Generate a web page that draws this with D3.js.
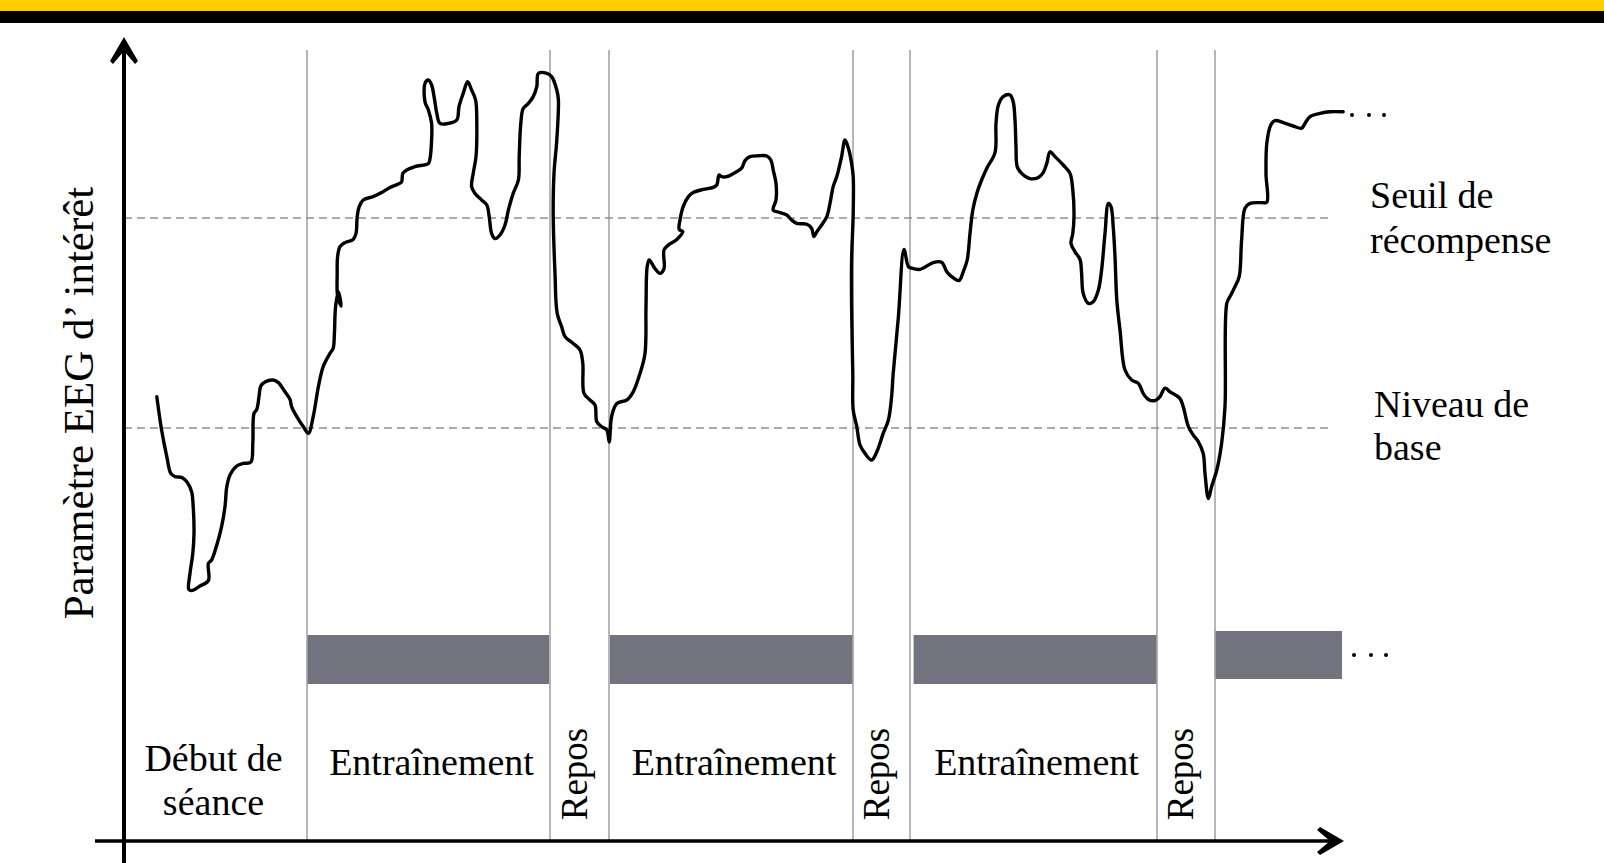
<!DOCTYPE html>
<html><head><meta charset="utf-8">
<script src="https://cdn.jsdelivr.net/npm/d3@7"></script>
<style>html,body{margin:0;padding:0;background:#fff;overflow:hidden}</style>
</head><body><svg id="c" width="1604" height="863"></svg>
<script>
// ---- data (time in arbitrary units, EEG parameter in arbitrary units) ----
const phaseNames = [["Début de","séance"],["Entraînement"],["Repos"],["Entraînement"],["Repos"],["Entraînement"],["Repos"]];
const phaseKinds = ["start","train","rest","train","rest","train","rest"];
const phaseStart = [0, 45.75, 106.5, 121.25, 182.25, 196.5, 258.25];
const phaseEnd   = [45.75, 106.5, 121.25, 182.25, 196.5, 258.25, 272.75];
const feedbackStart = [45.75, 121.5, 197.4, 272.75];
const feedbackEnd   = [106.25, 182.25, 258.25, 304.5];
const feedbackLow   = [39.25, 39.25, 39.25, 40.5];
const feedbackHigh  = [51.5, 51.5, 51.5, 52.5];
const levelValues = [155.75, 103.25];
const levelLabels = [["Seuil de","récompense"],["Niveau de","base"]];
const yAxisLabel = "Paramètre EEG d’ intérêt";
const eegSignal = [
[8.2,111.1],[9.4,102.75],[10.7,96.1],[11.7,91.9],[12.75,91.1],[14.4,90.9],[15.7,89.8],[16.9,87.3],[17.3,83.6],[17.5,76.9],
[17.2,71.9],[16.5,66.9],[16.2,62.9],[16.9,62.6],[19,63.75],[21.1,65.1],[21.1,69.4],[21.9,70.25],[23.2,74],[24.4,78.6],
[25.25,83.6],[25.7,88.6],[26.5,91.5],[28.2,93.75],[29.8,94.4],[31.7,94.7],[32.2,99.4],[32.5,106.9],[33.2,107.9],[33.8,111.5],
[34.2,113.75],[35.25,114.75],[37.3,115.25],[38.6,114.6],[40.25,112.3],[41.5,110.4],[41.9,108.6],[43.2,106.1],[44.8,103.6],[46.1,101.9],
[47.3,106.1],[48.6,113.6],[49.8,118.6],[51.5,121.9],[52.3,123.2],[52.6,126.9],[52.9,133.6],[53.6,137.25],[54.3,133.75],[53.4,136.25],
[53.3,141.9],[53.4,146.1],[54,148.6],[55.25,149.6],[57.3,150.4],[58,151.9],[58.3,156.1],[58.8,158.6],[59.8,160.25],[62.3,161.1],
[64.4,162.1],[66.5,163.4],[68.6,164.25],[69.4,164.8],[69.7,166.9],[70.7,167.75],[72.75,168.6],[76.1,169.4],[76.5,170.6],[76.9,175.25],
[76.9,179.4],[76.1,182.75],[75.25,184.8],[75.25,189.4],[76.1,190.25],[76.9,189],[77.6,185.6],[78.2,181.9],[79,179.4],[81.1,179.4],
[83.2,180.25],[83.75,183.6],[84.8,186.9],[85.9,189.8],[86.9,187.75],[87.9,185.25],[88.2,179.4],[88,171.1],[87.3,166.9],[86.9,163.6],
[87.75,161.9],[89.4,160.25],[90.7,159],[91.3,156.1],[91.9,151.9],[92.75,150.6],[94,151.5],[95.25,154],[96.1,157.75],[97.3,161.9],
[98.6,165.25],[98.8,171.1],[99.2,179.4],[99.8,183.1],[101.1,184.4],[102.3,186.1],[103.2,188.6],[103.6,191.9],[105.7,191.9],[106.9,191.1],
[108.2,187.75],[108.6,185.25],[108.2,175.25],[107.5,166.9],[107.3,156.9],[107.75,141.9],[108.3,131.9],[109.4,128.6],[110.25,126.1],[112.3,124.4],
[114,122.75],[114.7,119.4],[115,111.9],[116.5,110.25],[117.75,109],[118.2,104.8],[119.4,103.6],[120.7,102.75],[121.3,99.75],[121.9,106.1],
[123.2,109.4],[125.7,110.25],[127.3,112.3],[129,116.9],[130.25,121.9],[130.5,133.6],[130.8,143.6],[131.3,145.25],[132.75,143.1],[134,141.9],
[135,143.1],[135,147.75],[136.1,149],[138.2,150.4],[139.7,152.3],[138.8,152.9],[139,155.25],[139.8,158.6],[141.1,161.1],[142.3,162.1],
[144.8,162.9],[147.3,163.4],[148.2,164],[148.75,166.5],[149.4,166.1],[150.7,166.1],[152.75,167.1],[154.4,168.2],[155.25,170.1],[156.5,171.1],
[158.6,171.3],[160.7,171.25],[161.7,170.25],[162.3,167.75],[163,164.4],[163,160.25],[162.3,157.75],[164,157.1],[165.7,156.5],[166.9,155.25],
[168.2,154.4],[170.7,154.2],[171.9,153.2],[172.5,151.1],[173.2,152.3],[174.4,154],[175.7,156.1],[176.5,159.4],[177.3,163.6],[178.2,166.1],
[179.4,171.1],[180.25,175.25],[181.1,173.2],[181.9,169.4],[182.3,166.1],[182.3,156.9],[181.9,145.25],[181.9,133.6],[182.2,116.9],[182.3,107.75],
[183.2,103.6],[184,99],[185.25,96.9],[186.9,95.25],[188.2,97.3],[189.8,101.9],[191.1,105.25],[191.9,111.1],[192.3,116.9],[193.6,131.1],
[195,147.9],[196.1,143.6],[196.9,143.2],[199,142.9],[202.3,144.6],[204.4,144.7],[205.7,142.3],[206.9,141.1],[208.75,140.1],[209.8,142.3],
[210.8,145.25],[211.5,151.9],[212.2,157.75],[213.2,161.9],[214.4,165.25],[215.7,168.2],[217.75,172.1],[218,179.4],[218.6,184],[219.8,186.1],
[221.5,186.5],[222.3,184.8],[222.75,180.25],[223,173.6],[223.3,168.6],[224.4,166.9],[226.5,165.6],[228.6,165.9],[229.8,167.1],[230.7,169.4],
[231.5,172.3],[232.75,171.1],[234.8,169],[236.5,166.9],[237.2,162.75],[237.5,156.1],[237.2,151.9],[236.75,149.4],[237.75,147.3],[239,145.4],
[239.4,141.9],[239.8,136.9],[241.1,134.4],[242.3,134.8],[243.6,137.75],[244.4,142.75],[245.25,151.9],[246.1,159.4],[246.75,158.6],[247.3,153.6],
[247.75,146.1],[248.2,135.25],[249,127.75],[250.25,117.75],[251.9,115.25],[253.6,114.4],[254.8,111.9],[256.1,110.4],[257.75,110.1],[259,111.1],
[260.25,113.2],[261.5,112.3],[264,110.6],[264.8,108.6],[266.1,103.6],[267.3,101.5],[268.6,99.8],[269.8,96.9],[270.25,91.9],[271.1,85.6],
[271.9,88.6],[273.2,92.75],[274.4,99.4],[275.25,108.6],[275.7,134.4],[276.5,136.1],[277.75,138.6],[278.8,141.1],[279.4,150.25],[280.25,158.2],
[281.5,159.4],[284.4,159.6],[285.7,159.7],[285.5,166.9],[285.7,174.4],[286.7,179],[287.75,180.1],[289.8,179.6],[292.3,178.75],[294.4,178.2],
[295.25,179.4],[296.5,181.1],[299,181.9],[301.5,182.3],[304.8,182.3]
];
const continuationSignal = [[307,181.5],[311.25,181.5],[315,181.5]];
const continuationFeedback = [[307.5,46.5],[311.75,46.5],[315.5,46.5]];

// ---- scales ----
const W = 1604, H = 863;
const x = d3.scaleLinear().domain([0, 305]).range([124, 1344]);
const y = d3.scaleLinear().domain([0, 200]).range([841, 41]);
const svg = d3.select("#c");
const FONT = "'Liberation Serif','Times New Roman',serif";
const INK = "#000";

// top banner
svg.append("rect").attr("x",0).attr("y",0).attr("width",W).attr("height",11).attr("fill","#ffcc00");
svg.append("rect").attr("x",0).attr("y",11).attr("width",W).attr("height",12).attr("fill","#000");

// feedback bars
svg.append("g").selectAll("rect").data(d3.range(feedbackStart.length)).join("rect")
  .attr("x", i => x(feedbackStart[i]))
  .attr("width", i => x(feedbackEnd[i]) - x(feedbackStart[i]))
  .attr("y", i => y(feedbackHigh[i]))
  .attr("height", i => y(feedbackLow[i]) - y(feedbackHigh[i]))
  .attr("fill", "#72737e");

// phase boundary lines
svg.append("g").selectAll("line").data(phaseEnd).join("line")
  .attr("x1", d => x(d)).attr("x2", d => x(d))
  .attr("y1", y(197.75)).attr("y2", y(0))
  .attr("stroke", "#a2a3ad").attr("stroke-width", 1.6);

// dashed levels
svg.append("g").selectAll("line").data(levelValues).join("line")
  .attr("x1", x(0)).attr("x2", x(302))
  .attr("y1", d => y(d)).attr("y2", d => y(d))
  .attr("stroke", "#8e8f9c").attr("stroke-width", 1.6)
  .attr("stroke-dasharray", "8,5");

// EEG curve
const line = d3.line().x(d => x(d[0])).y(d => y(d[1])).curve(d3.curveCatmullRom.alpha(0.5));
svg.append("path").datum(eegSignal).attr("d", line)
  .attr("fill", "none").attr("stroke", "#000").attr("stroke-width", 3.4)
  .attr("stroke-linejoin", "round").attr("stroke-linecap", "round");

// continuation dots
svg.append("g").selectAll("circle").data(continuationSignal.concat(continuationFeedback)).join("circle")
  .attr("cx", d => x(d[0])).attr("cy", d => y(d[1])).attr("r", 2).attr("fill", "#000");

// axes
svg.append("line").attr("x1", x(0)).attr("x2", x(0)).attr("y1", y(-5.5)).attr("y2", y(198))
  .attr("stroke", "#000").attr("stroke-width", 4);
svg.append("line").attr("x1", x(-7.25)).attr("x2", x(303.5)).attr("y1", y(0)).attr("y2", y(0))
  .attr("stroke", "#000").attr("stroke-width", 3.5);
// y arrow head
{
  const tx = x(0), ty = y(201);
  svg.append("path").attr("fill", "#000")
    .attr("d", `M${tx},${ty} L${tx+14},${ty+24} L${tx+11},${ty+27} L${tx},${ty+14} L${tx-11},${ty+27} L${tx-14},${ty+24} Z`);
}
// x arrow head
{
  const tx = x(305), ty = y(0);
  svg.append("path").attr("fill", "#000")
    .attr("d", `M${tx},${ty} L${tx-24},${ty-14} L${tx-27},${ty-11} L${tx-14},${ty} L${tx-27},${ty+11} L${tx-24},${ty+14} Z`);
}

// y axis title
svg.append("text").attr("transform", `translate(93,${y(109.5)}) rotate(-90)`)
  .attr("text-anchor", "middle").attr("font-family", FONT).attr("font-size", 43)
  .attr("fill", INK).text(yAxisLabel);

// level labels
const levelX = [x(311.5), x(312.5)];
const levelOffsets = [[-10, 35], [-11, 32]];
levelLabels.forEach((lines, i) => {
  lines.forEach((s, j) => {
    svg.append("text").attr("x", levelX[i]).attr("y", y(levelValues[i]) + levelOffsets[i][j])
      .attr("font-family", FONT).attr("font-size", 38).attr("fill", INK).text(s);
  });
});

// phase labels
phaseNames.forEach((lines, i) => {
  const cx = (x(phaseStart[i]) + x(phaseEnd[i])) / 2;
  if (phaseKinds[i] === "rest") {
    svg.append("text").attr("transform", `translate(${cx + 7},${y(16.75)}) rotate(-90)`)
      .attr("text-anchor", "middle").attr("font-family", FONT).attr("font-size", 37)
      .attr("fill", INK).text(lines[0]);
  } else if (lines.length === 2) {
    lines.forEach((s, j) => {
      svg.append("text").attr("x", cx - 2).attr("y", y(17.5) + j * 44)
        .attr("text-anchor", "middle").attr("font-family", FONT).attr("font-size", 38)
        .attr("fill", INK).text(s);
    });
  } else {
    svg.append("text").attr("x", cx + 3).attr("y", y(16.5))
      .attr("text-anchor", "middle").attr("font-family", FONT).attr("font-size", 38)
      .attr("fill", INK).text(lines[0]);
  }
});
</script>
</body></html>
